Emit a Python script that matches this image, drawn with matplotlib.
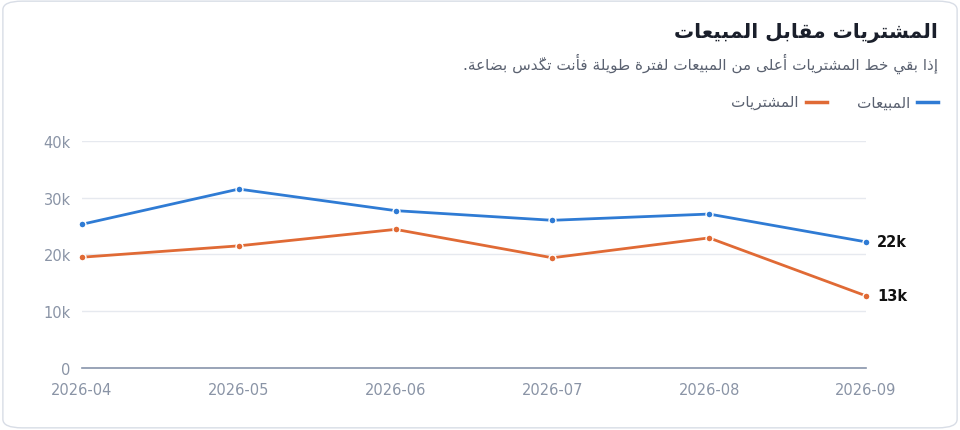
import matplotlib
matplotlib.use("Agg")
import matplotlib.pyplot as plt
from matplotlib.patches import FancyBboxPatch
from matplotlib.lines import Line2D

months = ["2026-04", "2026-05", "2026-06", "2026-07", "2026-08", "2026-09"]
sales = [25.3, 31.5, 27.7, 26.0, 27.1, 22.2]
purchases = [19.5, 21.5, 24.4, 19.4, 22.9, 12.7]
yticks = [0, 10, 20, 30, 40]
ytick_labels = ["0", "10k", "20k", "30k", "40k"]
title = "المشتريات مقابل المبيعات"
subtitle = "إذا بقي خط المشتريات أعلى من المبيعات لفترة طويلة فأنت تكدّس بضاعة."
sales_name = "المبيعات"
purch_name = "المشتريات"

FORMS = {
 'ا':(0xFE8D,0xFE8E,None,None),'أ':(0xFE83,0xFE84,None,None),'إ':(0xFE87,0xFE88,None,None),
 'ب':(0xFE8F,0xFE90,0xFE91,0xFE92),'ة':(0xFE93,0xFE94,None,None),'ت':(0xFE95,0xFE96,0xFE97,0xFE98),
 'خ':(0xFEA5,0xFEA6,0xFEA7,0xFEA8),'د':(0xFEA9,0xFEAA,None,None),'ذ':(0xFEAB,0xFEAC,None,None),
 'ر':(0xFEAD,0xFEAE,None,None),'س':(0xFEB1,0xFEB2,0xFEB3,0xFEB4),'ش':(0xFEB5,0xFEB6,0xFEB7,0xFEB8),
 'ض':(0xFEBD,0xFEBE,0xFEBF,0xFEC0),'ط':(0xFEC1,0xFEC2,0xFEC3,0xFEC4),'ع':(0xFEC9,0xFECA,0xFECB,0xFECC),
 'ف':(0xFED1,0xFED2,0xFED3,0xFED4),'ق':(0xFED5,0xFED6,0xFED7,0xFED8),'ك':(0xFED9,0xFEDA,0xFEDB,0xFEDC),
 'ل':(0xFEDD,0xFEDE,0xFEDF,0xFEE0),'م':(0xFEE1,0xFEE2,0xFEE3,0xFEE4),'ن':(0xFEE5,0xFEE6,0xFEE7,0xFEE8),
 'ه':(0xFEE9,0xFEEA,0xFEEB,0xFEEC),'و':(0xFEED,0xFEEE,None,None),'ى':(0xFEEF,0xFEF0,None,None),
 'ي':(0xFEF1,0xFEF2,0xFEF3,0xFEF4),
}
MARKS = {'\u0651'}

def shape(s):
    chars = list(s)
    def prev_joins(i):
        j = i - 1
        while j >= 0 and chars[j] in MARKS: j -= 1
        return j >= 0 and chars[j] in FORMS and FORMS[chars[j]][2] is not None
    def next_joins(i):
        j = i + 1
        while j < len(chars) and chars[j] in MARKS: j += 1
        return j < len(chars) and chars[j] in FORMS
    clusters = []
    for i, c in enumerate(chars):
        if c in MARKS and clusters:
            clusters[-1] += c; continue
        if c in FORMS:
            iso, fin, ini, med = FORMS[c]
            p = prev_joins(i); n = next_joins(i) and ini is not None
            if p and n: g = med
            elif p: g = fin
            elif n: g = ini
            else: g = iso
            clusters.append(chr(g))
        else:
            clusters.append(c)
    return "".join(reversed(clusters))

FONT = "DejaVu Sans"
BLUE = "#2f7bd4"; ORANGE = "#e06a35"; GRAY = "#8a94a6"

fig = plt.figure(figsize=(9.6, 4.31), dpi=100)
card = FancyBboxPatch((0.003, 0.005), 0.994, 0.99, boxstyle="round,pad=0,rounding_size=0.02",
                      transform=fig.transFigure, fc="white", ec="#d8dde6", lw=1, zorder=-10)
fig.patches.append(card)
ax = fig.add_axes([0.0854, 0.144, 0.8166, 0.527])
ax.set_zorder(5)
ax.patch.set_alpha(0)
x = list(range(len(months)))
ax.plot(x, sales, color=BLUE, lw=2, marker="o", ms=5, mec="white", mew=1, zorder=3, clip_on=False)
ax.plot(x, purchases, color=ORANGE, lw=2, marker="o", ms=5, mec="white", mew=1, zorder=3, clip_on=False)
ax.set_xlim(0, 5); ax.set_ylim(0, 40)
ax.set_yticks(yticks); ax.set_yticklabels(ytick_labels)
ax.set_xticks(x); ax.set_xticklabels(months)
ax.grid(axis="y", color="#e6e9ef", lw=1)
for s in ["top", "right", "left"]: ax.spines[s].set_visible(False)
ax.spines["bottom"].set_color("#8895ab"); ax.spines["bottom"].set_linewidth(1.2)
ax.tick_params(length=0, colors=GRAY, labelsize=10.5, pad=10)
ax.tick_params(axis="y", pad=8)
ax.set_axisbelow(True)
ax.annotate(f"{round(sales[-1])}k", (x[-1], sales[-1]), xytext=(8, 0), textcoords="offset points",
            va="center", fontsize=10.5, fontweight="bold", color="#111")
ax.annotate(f"{round(purchases[-1])}k", (x[-1], purchases[-1]), xytext=(8, 0), textcoords="offset points",
            va="center", fontsize=10.5, fontweight="bold", color="#111")

fig.text(938/960, 1-33/431, shape(title), ha="right", va="center", fontsize=14.5, fontweight="bold",
         color="#1a1f2b", family=FONT)
fig.text(938/960, 1-64/431, shape(subtitle), ha="right", va="center", fontsize=11, color="#5a6170", family=FONT)
fig.add_artist(Line2D([917/960, 938/960], [1-103/431]*2, color=BLUE, lw=2.5, transform=fig.transFigure))
fig.text(910/960, 1-103/431, shape(sales_name), ha="right", va="center", fontsize=11, color="#5a6170", family=FONT)
fig.add_artist(Line2D([806/960, 827/960], [1-103/431]*2, color=ORANGE, lw=2.5, transform=fig.transFigure))
fig.text(798/960, 1-103/431, shape(purch_name), ha="right", va="center", fontsize=11, color="#5a6170", family=FONT)
fig.savefig("out.png", dpi=100, facecolor="white")
